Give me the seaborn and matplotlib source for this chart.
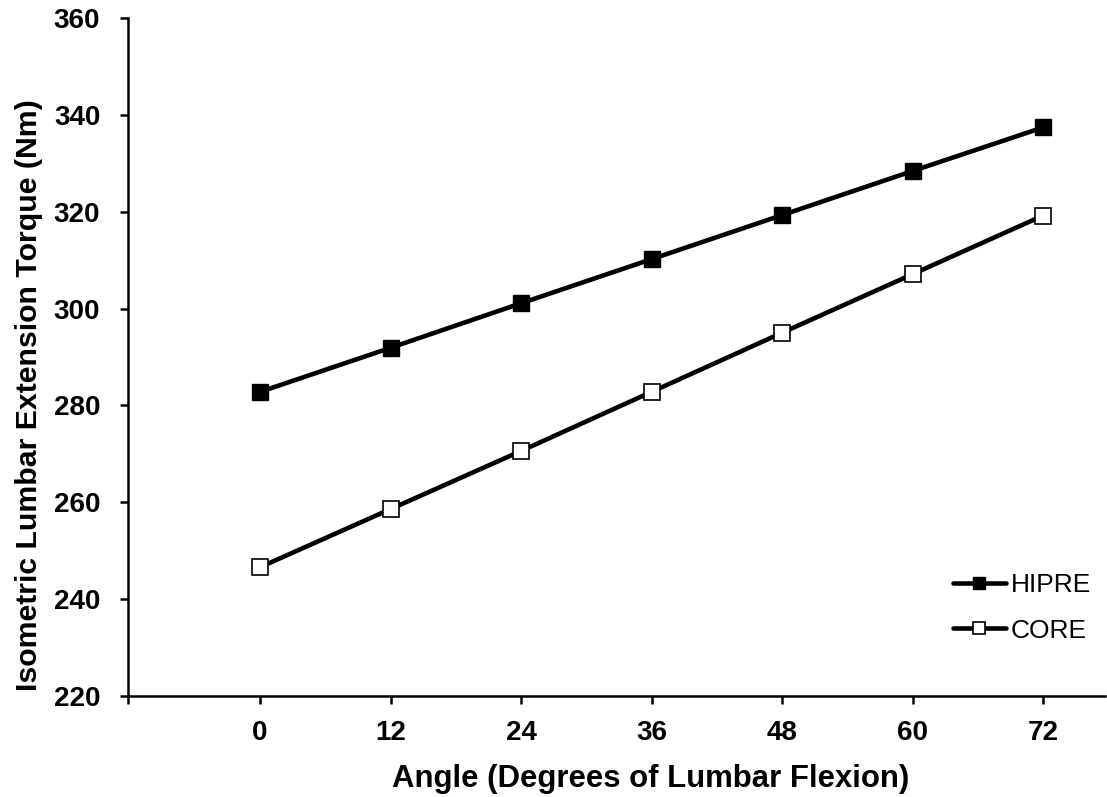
import matplotlib
matplotlib.use("Agg")
import matplotlib.pyplot as plt
import pandas as pd
import seaborn as sns

# Data
angles = [0, 12, 24, 36, 48, 60, 72]
hipre = [282.8, 291.9, 301.1, 310.2, 319.3, 328.4, 337.4]
core = [246.6, 258.6, 270.6, 282.8, 295.0, 307.1, 319.2]

df = pd.DataFrame({"angle": angles, "HIPRE": hipre, "CORE": core})

sns.set_style("white")
plt.rcParams['font.family'] = ['Liberation Sans', 'DejaVu Sans']
plt.rcParams['text.color'] = 'black'
plt.rcParams['axes.labelcolor'] = 'black'
plt.rcParams['xtick.color'] = 'black'
plt.rcParams['ytick.color'] = 'black'

fig = plt.figure(figsize=(11.07, 7.97), dpi=100)
ax = fig.add_axes([128 / 1107, 101 / 797, 977 / 1107, 678 / 797])

# HIPRE - filled squares
sns.lineplot(data=df, x="angle", y="HIPRE", ax=ax, color="black", linewidth=3.3,
             marker="s", markersize=11, markerfacecolor="black",
             markeredgecolor="black", markeredgewidth=1, label="HIPRE")
# CORE - open squares
sns.lineplot(data=df, x="angle", y="CORE", ax=ax, color="black", linewidth=3.3,
             marker="s", markersize=11, markerfacecolor="white",
             markeredgecolor="black", markeredgewidth=1.2, label="CORE")

ax.set_xlim(-12.15, 77.7)
ax.set_ylim(220, 360)
ax.set_yticks(range(220, 361, 20))
ax.set_xticks([-12.15] + angles)
ax.set_xticklabels([""] + [str(a) for a in angles])

for side in ["top", "right"]:
    ax.spines[side].set_visible(False)
for side in ["left", "bottom"]:
    ax.spines[side].set_color("black")
    ax.spines[side].set_linewidth(1.8)

ax.tick_params(axis="both", direction="out", length=6, width=1.8, color="black",
               labelsize=20, left=True, bottom=True)
ax.tick_params(axis="y", pad=14)
ax.tick_params(axis="x", pad=11)
for lbl in ax.get_xticklabels() + ax.get_yticklabels():
    lbl.set_fontweight("bold")

ax.set_xlabel("Angle (Degrees of Lumbar Flexion)", fontsize=22.4, fontweight="bold")
ax.set_ylabel("Isometric Lumbar Extension Torque (Nm)", fontsize=21.8,
              fontweight="bold")
ax.xaxis.set_label_coords((651 - 128) / 977, -0.1)
ax.yaxis.set_label_coords((43 - 128) / 977, (696 - 395) / 678)

ax.legend(loc="center left", bbox_to_anchor=(953 / 1107, 1 - 608 / 797),
          bbox_transform=fig.transFigure, frameon=False, fontsize=19,
          handlelength=2.0, handletextpad=0.2, labelspacing=0.8,
          borderpad=0, borderaxespad=0, markerscale=0.85)

fig.savefig("out.png", dpi=100)
